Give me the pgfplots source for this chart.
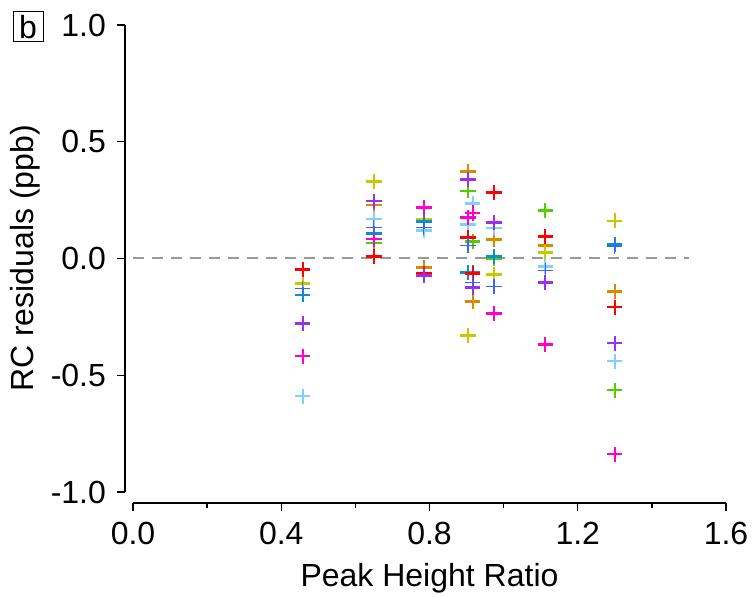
\documentclass[border=0pt]{standalone}
\usepackage{pgfplots}
\pgfplotsset{compat=1.18}
\usepackage{fontspec}
\setmainfont{Liberation Sans}
\definecolor{cred}{HTML}{FF0000}
\definecolor{corange}{HTML}{DA8A00}
\definecolor{cyellow}{HTML}{C8C800}
\definecolor{cgreen}{HTML}{55CC00}
\definecolor{cteal}{HTML}{0A8ED0}
\definecolor{clight}{HTML}{7FD0FF}
\definecolor{cblue}{HTML}{3F5FFF}
\definecolor{cpurple}{HTML}{9B30E8}
\definecolor{cmagenta}{HTML}{FF00CC}
\definecolor{cdash}{HTML}{999999}
\tikzset{pt/.style={draw=#1, mark=+, only marks, mark size=3.8pt, line width=1.15pt, mark options={solid, draw=#1, line width=1.15pt}}}
\begin{document}
\fontsize{16}{19}\selectfont
\begin{tikzpicture}
\useasboundingbox (-66.5pt,-52.5pt) rectangle (310.5pt,246pt);
\begin{axis}[
  scale only axis, width=296.5pt, height=233.5pt,
  xmin=0, xmax=1.6, ymin=-1, ymax=1,
  axis lines=left, axis line style={-, line width=0.7pt},
  axis x line shift=5.5pt, axis y line shift=4pt,
  tick align=outside, major tick length=4pt, minor tick length=2.5pt,
  tick style={line width=0.7pt, black},
  xtick={0,0.4,0.8,1.2,1.6}, xticklabels={0.0,0.4,0.8,1.2,1.6},
  minor x tick num=1,
  ytick={-1,-0.5,0,0.5,1}, yticklabels={-1.0,-0.5,0.0,0.5,1.0},
  tick label style={font=\fontsize{16}{19}\selectfont},
  /pgf/number format/assume math mode=true,
  xlabel={Peak Height Ratio}, ylabel={RC residuals (ppb)},
  label style={font=\fontsize{16}{19}\selectfont},
  xlabel style={at={(axis description cs:0.5,-0.184)}, anchor=center},
  ylabel style={at={(axis description cs:-0.182,0.5)}, anchor=center},
  clip=false,
]
\addplot [cdash, dash pattern=on 5.5pt off 4pt, line width=1pt, mark=none] coordinates {(0,0) (1.5,0)};
% green
\addplot [pt=cgreen] coordinates {(0.458,-0.11) (0.650,0.066) (0.785,0.16) (0.904,0.29) (0.917,0.073) (0.974,0.0) (1.112,0.205) (1.30,-0.564)};
% orange
\addplot [pt=corange] coordinates {(0.458,-0.278) (0.650,0.23) (0.785,-0.038) (0.904,0.372) (0.917,-0.184) (0.974,0.081) (1.112,0.056) (1.30,-0.141)};
% yellow
\addplot [pt=cyellow] coordinates {(0.458,-0.107) (0.650,0.33) (0.785,0.167) (0.904,-0.33) (0.974,-0.068) (1.112,0.026) (1.30,0.162)};
% light blue
\addplot [pt=clight] coordinates {(0.458,-0.59) (0.650,0.17) (0.785,0.12) (0.904,0.145) (0.917,0.235) (0.974,0.132) (1.112,-0.034) (1.30,-0.44)};
% teal
\addplot [pt=cteal] coordinates {(0.458,-0.155) (0.650,0.107) (0.785,0.158) (0.904,-0.06) (0.917,-0.06) (0.974,0.009) (1.30,0.06)};
% red
\addplot [pt=cred] coordinates {(0.458,-0.047) (0.650,0.009) (0.785,-0.064) (0.904,0.09) (0.917,-0.064) (0.974,0.282) (1.112,0.094) (1.30,-0.209)};
% purple
\addplot [pt=cpurple] coordinates {(0.458,-0.278) (0.650,0.245) (0.785,-0.073) (0.904,0.338) (0.917,-0.124) (0.974,0.154) (1.112,-0.103) (1.30,-0.363)};
% magenta
\addplot [pt=cmagenta] coordinates {(0.458,-0.419) (0.650,0.082) (0.785,0.218) (0.904,0.175) (0.917,0.195) (0.974,-0.235) (1.112,-0.368) (1.30,-0.838)};
% blue (thin)
\addplot [pt=cblue, line width=0.55pt, mark options={line width=0.55pt}] coordinates {(0.458,-0.128) (0.650,0.132) (0.785,0.132) (0.904,0.056) (0.917,-0.103) (0.974,-0.12) (1.112,-0.051) (1.30,0.052)};
\node[draw, line width=0.5pt, inner sep=0pt, minimum width=15pt, minimum height=15pt, font=\fontsize{16}{19}\selectfont, anchor=center] at (axis description cs:-0.177,0.996) {b};
\end{axis}
\end{tikzpicture}
\end{document}
